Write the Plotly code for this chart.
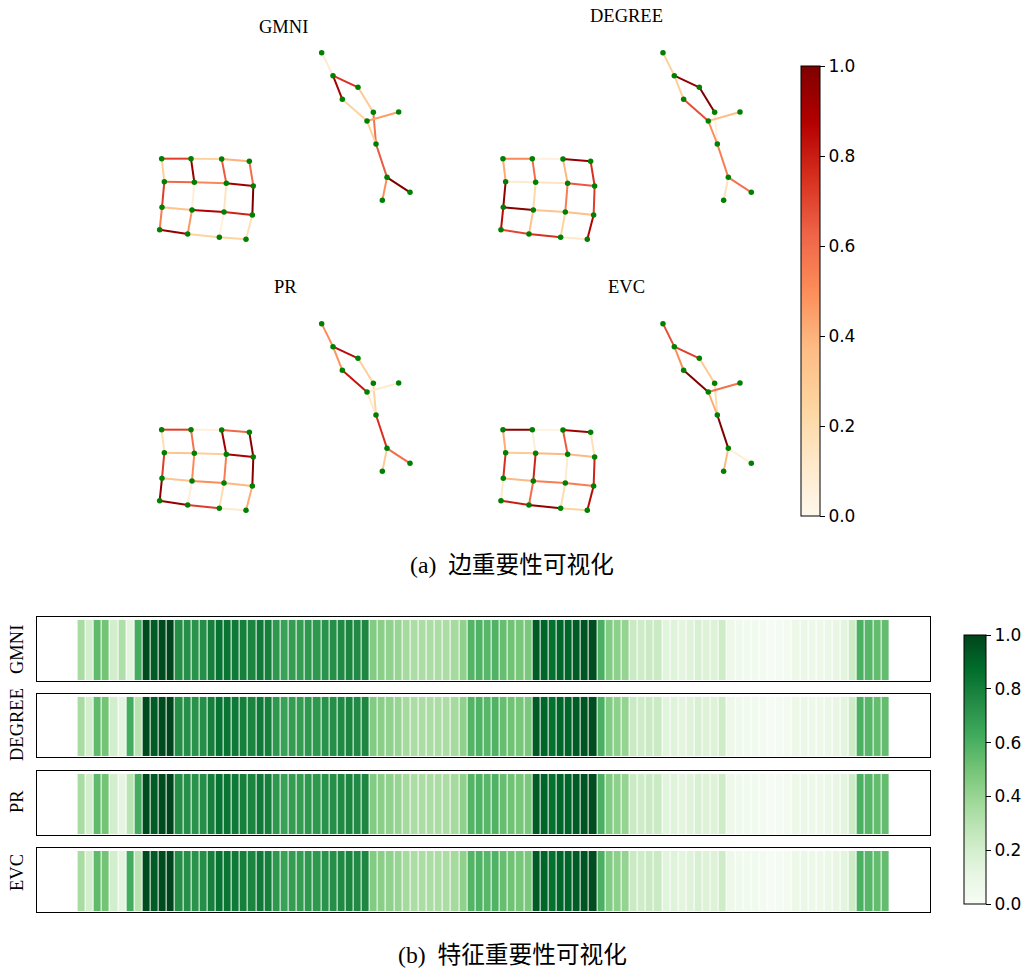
import plotly.graph_objects as go
from plotly.colors import sample_colorscale

W, H = 1031, 970
SERIF = "Liberation Serif, Noto Sans CJK SC"
SANS = "DejaVu Sans"

METHODS = ["GMNI", "DEGREE", "PR", "EVC"]

NODES = {
    "a0": (65, 386), "a1": (153, 386), "a2": (245, 387), "a3": (328, 394),
    "b0": (73, 455), "b1": (163, 457), "b2": (259, 460), "b3": (340, 468),
    "c0": (66, 532), "c1": (156, 540), "c2": (252, 546), "c3": (337, 555),
    "d0": (59, 599), "d1": (143, 612), "d2": (238, 622), "d3": (318, 628),
    "t0": (545, 68), "t1": (579, 137), "t2": (654, 172), "t3": (607, 208),
    "t4": (700, 247), "t5": (681, 273), "t6": (776, 246), "t7": (708, 342),
    "t8": (741, 442), "t9": (810, 487), "t10": (727, 511),
}

EDGES = [
    ("a0", "a1"), ("a1", "a2"), ("a2", "a3"), ("b0", "b1"), ("b1", "b2"), ("b2", "b3"),
    ("c0", "c1"), ("c1", "c2"), ("c2", "c3"), ("d0", "d1"), ("d1", "d2"), ("d2", "d3"),
    ("a0", "b0"), ("a1", "b1"), ("a2", "b2"), ("a3", "b3"), ("b0", "c0"), ("b1", "c1"),
    ("b2", "c2"), ("b3", "c3"), ("c0", "d0"), ("c1", "d1"), ("c2", "d2"), ("c3", "d3"),
    ("t0", "t1"), ("t1", "t2"), ("t1", "t3"), ("t2", "t4"), ("t3", "t5"), ("t4", "t7"),
    ("t5", "t7"), ("t5", "t6"), ("t7", "t8"), ("t8", "t9"), ("t8", "t10"),
]

EDGE_GMNI = [.72, .25, .40, .62, .52, .92, .33, .88, .78, .95, .25, .25,
             .27, .95, .65, .60, .72, .07, .15, 1.0, .55, .47, .05, .18,
             .10, .75, .90, .30, .25, .58, .27, .45, .65, 1.0, .50]
EDGE_DEGREE = [.52, .05, .95, .10, .15, .65, .98, .33, .35, .70, .75, .12,
               .42, .60, .38, .75, .95, .22, .55, .72, .85, .33, .25, .87,
               .27, .95, .28, 1.0, .68, .05, .50, .35, .55, .58, .17]
EDGE_PR = [.72, .06, .62, .33, .27, .90, .33, .50, .38, .95, .72, .10,
           .18, .58, .92, .98, .72, .50, .55, .97, .97, .07, .20, .42,
           .50, .85, .48, .28, .82, .25, .12, .10, .75, .60, .30]
EDGE_EVC = [.97, .04, .92, .30, .38, .38, .38, .55, .55, .80, .95, .25,
            .42, .08, .65, .18, .75, .78, .10, .78, .12, .60, .20, .85,
            .68, .72, .50, .30, 1.0, .20, .42, .58, 1.0, .07, .38]
EDGE_VALUES = [EDGE_GMNI, EDGE_DEGREE, EDGE_PR, EDGE_EVC]

FEATURE_TAIL = [.98, .93, .98, 1.0, .74, .74, .72, .74, .80, .85, .84, .82,
                .80, .78, .82, .80, .70, .66, .68, .68, .70, .70, .72, .74, .76, .78, .76,
                .77, .46, .44, .42, .40, .36, .34, .34, .34, .34, .34, .36, .42, .58, .59,
                .57, .59, .53, .51, .49, .48, .93, .90, .86, .90, .90, .93, .95, .97,
                .60, .46, .43, .41, .24, .22, .24, .24, .14, .15, .13, .15, .18, .16, .16, .22,
                .07, .05, .04, .04, .03, .01, .02, .03, .07, .08, .07, .07, .08, .10, .13, .22,
                .60, .57, .54, .54]
FEATURE_GMNI = [.35, .20, .55, .50, .20, .33, .13, .62] + FEATURE_TAIL
FEATURE_DEGREE = [.35, .20, .55, .50, .20, .13, .62, .30] + FEATURE_TAIL
FEATURE_PR = [.35, .20, .55, .50, .20, .12, .29, .62] + FEATURE_TAIL
FEATURE_EVC = [.35, .20, .55, .50, .20, .13, .62, .30] + FEATURE_TAIL
FEATURES = [FEATURE_GMNI, FEATURE_DEGREE, FEATURE_PR, FEATURE_EVC]
FEATURE_X = [i + 5.5 for i in range(len(FEATURE_GMNI))]

GRAPH_BOXES = [(140, 30), (481.3, 30), (140, 301), (481.3, 301)]
GRAPH_SIZE = (300, 225)
GRAPH_TITLES = [(283.5, 27), (626, 16), (285, 287), (626, 287)]
STRIP_BOXES = [(617, 681), (694, 757), (771, 835), (848, 912)]
STRIP_X = (37, 930)
STRIP_LABEL_Y = [650, 725, 802, 873]


def fx(p):
    return p / W


def fy(p):
    return 1 - p / H


fig = go.Figure()
layout = {}
annotations = []
idx = 1


def note(text, x, y, size, angle=0):
    annotations.append(dict(text=text, x=fx(x), y=fy(y), xref="paper", yref="paper", showarrow=False,
                            xanchor="center", yanchor="middle", textangle=angle,
                            font=dict(family=SERIF, size=size, color="black")))


for m, (left, top) in enumerate(GRAPH_BOXES):
    name = "" if idx == 1 else str(idx)
    layout[f"xaxis{name}"] = dict(domain=[fx(left), fx(left + GRAPH_SIZE[0])], range=[0, 900], visible=False, fixedrange=True)
    layout[f"yaxis{name}"] = dict(domain=[fy(top + GRAPH_SIZE[1]), fy(top)], range=[675, 0], visible=False, fixedrange=True, anchor=f"x{name}")
    for (u, v), val in zip(EDGES, EDGE_VALUES[m]):
        fig.add_trace(go.Scatter(
            x=[NODES[u][0], NODES[v][0]], y=[NODES[u][1], NODES[v][1]], mode="lines",
            line=dict(color=sample_colorscale("OrRd", [val])[0], width=2),
            showlegend=False, hoverinfo="skip", xaxis=f"x{name}", yaxis=f"y{name}"))
    fig.add_trace(go.Scatter(
        x=[p[0] for p in NODES.values()], y=[p[1] for p in NODES.values()], mode="markers",
        marker=dict(color="#008000", size=5.5), showlegend=False, hoverinfo="skip",
        xaxis=f"x{name}", yaxis=f"y{name}"))
    note(METHODS[m], GRAPH_TITLES[m][0], GRAPH_TITLES[m][1], 18.5)
    idx += 1

for m, (top, bottom) in enumerate(STRIP_BOXES):
    name = str(idx)
    layout[f"xaxis{name}"] = dict(domain=[fx(STRIP_X[0]), fx(STRIP_X[1])], range=[0, 110], showticklabels=False, ticks="",
                                  showgrid=False, zeroline=False, showline=True, mirror=True, linecolor="black", linewidth=1,
                                  fixedrange=True, anchor=f"y{name}")
    layout[f"yaxis{name}"] = dict(domain=[fy(bottom), fy(top)], range=[-0.515, 0.55], showticklabels=False, ticks="",
                                  showgrid=False, zeroline=False, showline=True, mirror=True, linecolor="black", linewidth=1,
                                  fixedrange=True, anchor=f"x{name}")
    fig.add_trace(go.Heatmap(z=[FEATURES[m]], x=FEATURE_X, y=[0], coloraxis="coloraxis2", xgap=1, ygap=0,
                             hoverinfo="skip", xaxis=f"x{name}", yaxis=f"y{name}"))
    note(METHODS[m], 17, STRIP_LABEL_Y[m], 18.5, angle=-90)
    idx += 1

fig.add_trace(go.Scatter(x=[None, None], y=[None, None], mode="markers",
                         marker=dict(color=[0, 1], coloraxis="coloraxis"), showlegend=False, hoverinfo="skip"))

note("(a)\u00a0\u00a0边重要性可视化", 512, 565, 23.7)
note("(b)\u00a0\u00a0特征重要性可视化", 512, 955, 23.7)


def colorbar(px_left, px_top, px_bottom, thick):
    return dict(x=fx(px_left), xanchor="left", xpad=0, y=fy(px_top), yanchor="top", ypad=0,
                len=px_bottom - px_top, lenmode="pixels", thickness=thick, thicknessmode="pixels",
                tick0=0, dtick=0.2, tickformat=".1f", ticks="outside", ticklen=5, tickwidth=1, tickcolor="black",
                outlinecolor="black", outlinewidth=1,
                tickfont=dict(family=SANS, size=17, color="black"))


layout["coloraxis"] = dict(colorscale="OrRd", cmin=0, cmax=1, colorbar=colorbar(801, 66, 516, 19))
layout["coloraxis2"] = dict(colorscale="Greens", cmin=0, cmax=1, colorbar=colorbar(964, 635, 904, 22))

fig.update_layout(width=W, height=H, margin=dict(l=0, r=0, t=0, b=0), paper_bgcolor="white", plot_bgcolor="white",
                  annotations=annotations, **layout)
fig.write_html("out.html", config={"displayModeBar": False}, post_script="document.body.style.margin='0';")
